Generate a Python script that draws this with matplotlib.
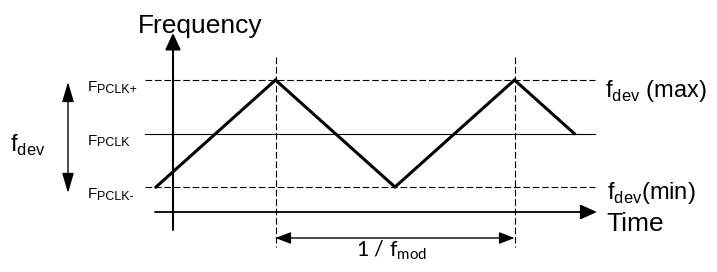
import matplotlib
matplotlib.use('Agg')
import matplotlib.pyplot as plt

plt.rcParams['font.family'] = ['Liberation Sans', 'DejaVu Sans']

# triangle modulation: time in modulation periods, frequency in units of f_dev/2
t_wave = [0.0, 0.5, 1.0, 1.5, 1.75]
f_wave = [-1, 1, -1, 1, 0]

levels = [1, 0, -1]
level_names = ['PCLK+', 'PCLK', 'PCLK-']
level_styles = ['--', '-', '--']
period_marks = [0.5, 1.5]

fig = plt.figure(figsize=(7.17, 2.72), dpi=100)
ax = fig.add_axes([0, 0, 1, 1])
# pixel -> data mapping: 239 px per period, 53.5 px per unit
ax.set_xlim(-156 / 239, (717 - 156) / 239)
ax.set_ylim((133.5 - 272) / 53.5, 133.5 / 53.5)
ax.axis('off')

def px(x):
    return (x - 156) / 239

def py(y):
    return (133.5 - y) / 53.5

x0, x1 = px(145), px(595)
for lv, name, ls in zip(levels, level_names, level_styles):
    ax.plot([x0, x1], [lv, lv], color='black', lw=0.8, ls=ls, dashes=(6, 2.5) if ls == '--' else (None, None))
    ax.text(px(88), lv - 11 / 53.5, 'F', fontsize=11, ha='left', va='baseline')
    ax.text(px(97), lv - 12.5 / 53.5, name, fontsize=9, ha='left', va='baseline')

for tm in period_marks:
    ax.plot([tm, tm], [py(57), py(247)], color='black', lw=0.8, dashes=(6, 2.5))

ax.plot(t_wave, f_wave, color='black', lw=2.2, solid_joinstyle='miter')

# axes
ax.annotate('', xy=(px(173), py(33)), xytext=(px(173), py(230)),
            arrowprops=dict(arrowstyle='-|>,head_length=0.56,head_width=0.26', color='black',
                            lw=1.5, mutation_scale=18, shrinkA=0, shrinkB=0))
ax.annotate('', xy=(px(597), py(212)), xytext=(px(155), py(212)),
            arrowprops=dict(arrowstyle='-|>,head_length=0.56,head_width=0.25', color='black',
                            lw=1.3, mutation_scale=18, shrinkA=0, shrinkB=0))
ax.text(px(200), py(33), 'Frequency', fontsize=19, ha='center', va='baseline')
ax.text(px(606), py(231), 'Time', fontsize=19, ha='left', va='baseline')

# f_dev arrow on the left
ax.annotate('', xy=(px(68), py(82)), xytext=(px(68), py(193)),
            arrowprops=dict(arrowstyle='<|-|>,head_length=0.68,head_width=0.2', color='black',
                            lw=1.0, mutation_scale=18, shrinkA=0, shrinkB=0))
ax.text(px(10), py(152), r'f$_{\mathregular{dev}}$', fontsize=17, ha='left', va='baseline')

ax.text(px(605), py(97), r'f$_{\mathregular{dev}}$ (max)', fontsize=17, ha='left', va='baseline')
ax.text(px(607), py(199), r'f$_{\mathregular{dev}}$(min)', fontsize=17, ha='left', va='baseline')

# period arrow
ax.annotate('', xy=(period_marks[0], py(238)), xytext=(period_marks[1], py(238)),
            arrowprops=dict(arrowstyle='<|-|>,head_length=0.52,head_width=0.2', color='black',
                            lw=1.0, mutation_scale=18, shrinkA=0, shrinkB=0))
ax.text(px(356), py(256), r'1 / f$_{\mathregular{mod}}$', fontsize=15.5, ha='left', va='baseline',
        family=['Lato', 'DejaVu Sans'])

fig.savefig('out.png', dpi=100)
